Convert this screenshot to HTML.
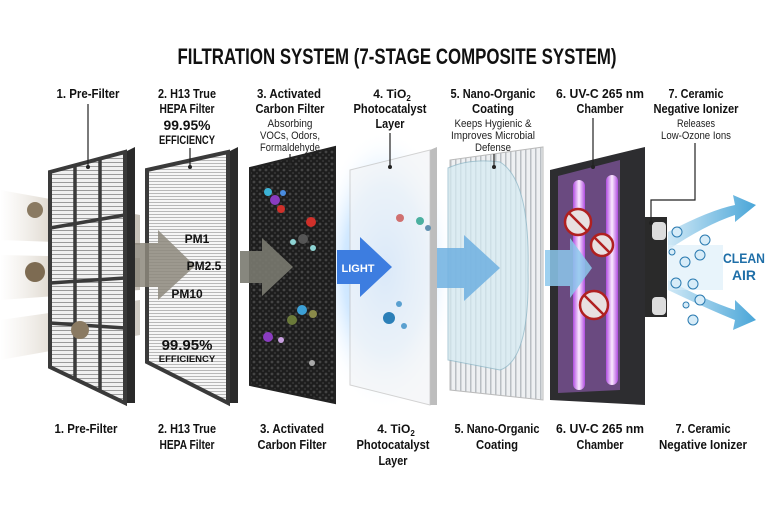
<!DOCTYPE html>
<html><head><meta charset="utf-8"><style>
html,body{margin:0;padding:0;background:#fff;}
svg{display:block;}
.t{font-family:"Liberation Sans",sans-serif;font-weight:bold;fill:#111;text-anchor:middle;}
.s{font-family:"Liberation Sans",sans-serif;fill:#222;text-anchor:middle;}
</style></head><body>
<svg width="768" height="512" viewBox="0 0 768 512" xmlns="http://www.w3.org/2000/svg">
<defs>
<pattern id="grid" width="4" height="4" patternUnits="userSpaceOnUse"><rect width="4" height="4" fill="#f0f0f0"/><rect y="2" width="4" height="1" fill="#9a9a9a"/></pattern>
<pattern id="hepa" width="3" height="3" patternUnits="userSpaceOnUse"><rect width="3" height="3" fill="#f6f6f6"/><rect y="1" width="3" height="1" fill="#b8b8b8"/></pattern>
<pattern id="carb" width="6" height="6" patternUnits="userSpaceOnUse"><rect width="6" height="6" fill="#1d1d1d"/><circle cx="2" cy="2" r="1.4" fill="#444"/><circle cx="5" cy="5" r="1.1" fill="#333"/></pattern>
<pattern id="vlines" width="5" height="5" patternUnits="userSpaceOnUse"><rect width="5" height="5" fill="#eef0f2"/><rect width="1.5" height="5" fill="#b9bec3"/></pattern>
<radialGradient id="glow" cx="0.5" cy="0.5" r="0.5"><stop offset="0" stop-color="#8fc4ff"/><stop offset="0.6" stop-color="#bfe0ff" stop-opacity="0.7"/><stop offset="1" stop-color="#fff" stop-opacity="0"/></radialGradient>
<linearGradient id="dust" x1="0" x2="1"><stop offset="0" stop-color="#c9bba8" stop-opacity="0"/><stop offset="0.4" stop-color="#a8987f" stop-opacity="0.7"/><stop offset="1" stop-color="#8a7e6c" stop-opacity="0.8"/></linearGradient>
<linearGradient id="air" x1="0" x2="1"><stop offset="0" stop-color="#cfe8f6"/><stop offset="1" stop-color="#4aa6d8"/></linearGradient>
<linearGradient id="tube" x1="0" x2="1"><stop offset="0" stop-color="#b04ce0"/><stop offset="0.5" stop-color="#fbeaff"/><stop offset="1" stop-color="#b04ce0"/></linearGradient>
</defs>

<text x="397" y="64" class="t" font-size="22" textLength="439" lengthAdjust="spacingAndGlyphs">FILTRATION SYSTEM (7-STAGE COMPOSITE SYSTEM)</text>

<!-- top labels -->
<g font-size="13">
<text x="88" y="98" class="t" textLength="63" lengthAdjust="spacingAndGlyphs">1. Pre-Filter</text>
<text x="187" y="98" class="t" textLength="58" lengthAdjust="spacingAndGlyphs">2. H13 True</text><text x="187" y="113" class="t" textLength="55" lengthAdjust="spacingAndGlyphs">HEPA Filter</text>
<text x="187" y="130" class="t" font-size="14" textLength="47" lengthAdjust="spacingAndGlyphs">99.95%</text><text x="187" y="144" class="t" font-size="11.5" textLength="56" lengthAdjust="spacingAndGlyphs">EFFICIENCY</text>
<text x="289" y="98" class="t" textLength="64" lengthAdjust="spacingAndGlyphs">3. Activated</text><text x="290" y="113" class="t" textLength="69" lengthAdjust="spacingAndGlyphs">Carbon Filter</text>
<text x="392" y="98" class="t" font-size="12">4. TiO<tspan font-size="8" dy="3">2</tspan></text><text x="390" y="113" class="t" textLength="73" lengthAdjust="spacingAndGlyphs">Photocatalyst</text><text x="390" y="128" class="t" textLength="29" lengthAdjust="spacingAndGlyphs">Layer</text>
<text x="493" y="98" class="t" textLength="85" lengthAdjust="spacingAndGlyphs">5. Nano-Organic</text><text x="493" y="113" class="t" textLength="42" lengthAdjust="spacingAndGlyphs">Coating</text>
<text x="600" y="98" class="t" textLength="88" lengthAdjust="spacingAndGlyphs">6. UV-C 265 nm</text><text x="600" y="113" class="t" textLength="47" lengthAdjust="spacingAndGlyphs">Chamber</text>
<text x="696" y="98" class="t" textLength="55" lengthAdjust="spacingAndGlyphs">7. Ceramic</text><text x="696" y="113" class="t" textLength="85" lengthAdjust="spacingAndGlyphs">Negative Ionizer</text>
</g>
<g font-size="11">
<text x="290" y="127" class="s" textLength="45" lengthAdjust="spacingAndGlyphs">Absorbing</text><text x="290" y="139" class="s" textLength="60" lengthAdjust="spacingAndGlyphs">VOCs, Odors,</text><text x="290" y="151" class="s" textLength="60" lengthAdjust="spacingAndGlyphs">Formaldehyde</text>
<text x="493" y="127" class="s" textLength="77" lengthAdjust="spacingAndGlyphs">Keeps Hygienic &amp;</text><text x="493" y="139" class="s" textLength="84" lengthAdjust="spacingAndGlyphs">Improves Microbial</text><text x="493" y="151" class="s" textLength="36" lengthAdjust="spacingAndGlyphs">Defense</text>
<text x="696" y="127" class="s" textLength="38" lengthAdjust="spacingAndGlyphs">Releases</text><text x="696" y="139" class="s" textLength="70" lengthAdjust="spacingAndGlyphs">Low-Ozone Ions</text>
</g>

<!-- blue glow -->
<ellipse cx="385" cy="270" rx="70" ry="140" fill="url(#glow)"/>
<!-- dust streams -->
<path d="M0 190 L140 215 L140 245 L0 240Z" fill="url(#dust)" opacity="0.6"/>
<path d="M0 255 L140 258 L140 290 L0 300Z" fill="url(#dust)" opacity="0.6"/>
<path d="M0 320 L140 300 L140 335 L0 360Z" fill="url(#dust)" opacity="0.5"/>

<!-- panel 1 -->
<polygon points="125,152 135,147 135,403 125,403" fill="#2a2a2a"/>
<polygon points="50,172 125,152 125,403 50,367" fill="url(#grid)" stroke="#3a3a3a" stroke-width="4"/>
<g stroke="#3a3a3a" stroke-width="3.5" fill="none">
<line x1="75" y1="165" x2="75" y2="380"/><line x1="100" y1="159" x2="100" y2="392"/>
<line x1="50" y1="228" x2="125" y2="215"/><line x1="50" y1="283" x2="125" y2="278"/><line x1="50" y1="323" x2="125" y2="328"/>
</g>
<circle cx="35" cy="210" r="8" fill="#8a7a62"/><circle cx="35" cy="272" r="10" fill="#7d6b52"/><circle cx="80" cy="330" r="9" fill="#8a7a62"/>

<!-- panel 2 -->
<polygon points="228,152 238,147 238,403 228,403" fill="#2a2a2a"/>
<polygon points="147,170 228,152 228,403 147,362" fill="url(#hepa)" stroke="#3a3a3a" stroke-width="4"/>
<polygon points="135,243 158,243 158,230 195,266 158,300 158,287 135,287" fill="#8d887c" opacity="0.85"/>
<g class="t" font-size="12"><text x="197" y="243">PM1</text><text x="204" y="270">PM2.5</text><text x="187" y="298">PM10</text></g>
<text x="187" y="350" class="t" font-size="15">99.95%</text><text x="187" y="362" class="t" font-size="9.5">EFFICIENCY</text>

<!-- panel 3 -->
<polygon points="250,168 335,147 335,403 250,385" fill="url(#carb)" stroke="#222" stroke-width="2"/>
<polygon points="240,251 262,251 262,238 293,267 262,296 262,283 240,283" fill="#7a7a70" opacity="0.9"/>
<g><circle cx="268" cy="192" r="4" fill="#3cb3d6"/><circle cx="275" cy="200" r="5" fill="#8a3cc0"/><circle cx="281" cy="209" r="4" fill="#d0302a"/><circle cx="283" cy="193" r="3" fill="#4a8de0"/>
<circle cx="311" cy="222" r="5" fill="#d0302a"/><circle cx="303" cy="239" r="5" fill="#555"/><circle cx="293" cy="242" r="3" fill="#8ed4d4"/><circle cx="313" cy="248" r="3" fill="#8ed4d4"/>
<circle cx="302" cy="310" r="5" fill="#3ca0d6"/><circle cx="292" cy="320" r="5" fill="#6b7a3a"/><circle cx="313" cy="314" r="4" fill="#8a8a4a"/>
<circle cx="268" cy="337" r="5" fill="#8a3cc0"/><circle cx="281" cy="340" r="3" fill="#c8a0e0"/><circle cx="312" cy="363" r="3" fill="#aaa"/></g>

<!-- panel 4 -->
<polygon points="430,150 437,147 437,405 430,405" fill="#bdbdbd"/>
<polygon points="350,170 430,150 430,405 350,385" fill="#f3f5f7" opacity="0.75" stroke="#c4c4c4"/>
<polygon points="337,250 360,250 360,237 392,267 360,297 360,284 337,284" fill="#3d7de0"/>
<text x="358" y="272" class="t" font-size="11" style="fill:#fff">LIGHT</text>
<circle cx="420" cy="221" r="4" fill="#4bb0a0"/><circle cx="400" cy="218" r="4" fill="#d07070"/><circle cx="428" cy="228" r="3" fill="#6090b0"/>
<circle cx="389" cy="318" r="6" fill="#2b7fb8"/><circle cx="399" cy="304" r="3" fill="#5aa0d0"/><circle cx="404" cy="326" r="3" fill="#5aa0d0"/>

<!-- panel 5 -->
<polygon points="450,160 543,147 543,400 450,390" fill="url(#vlines)" stroke="#bbb"/>
<path d="M448 168 Q470 158 500 162 Q530 180 528 270 Q530 360 500 370 L448 360 Z" fill="#d6ebf2" opacity="0.75" stroke="#8fb8c8"/>
<polygon points="437,248 464,248 464,235 500,268 464,301 464,288 437,288" fill="#6fb0e0" opacity="0.85"/>

<!-- panel 6 -->
<polygon points="550,170 645,147 645,405 550,400" fill="#2d2d30"/>
<polygon points="558,176 620,160 620,390 558,393" fill="#6a4a80"/>
<rect x="573" y="180" width="12" height="210" rx="6" fill="url(#tube)"/>
<rect x="606" y="175" width="12" height="210" rx="6" fill="url(#tube)"/>
<polygon points="545,250 570,250 570,238 592,268 570,298 570,286 545,286" fill="#8cc8ec" opacity="0.85"/>
<g fill="#e8e0e0" stroke="#b02020" stroke-width="2.5"><circle cx="578" cy="222" r="13"/><circle cx="602" cy="245" r="11"/><circle cx="594" cy="305" r="14"/></g>
<g stroke="#b02020" stroke-width="2.5"><line x1="569" y1="213" x2="587" y2="231"/><line x1="594" y1="237" x2="610" y2="253"/><line x1="584" y1="295" x2="604" y2="315"/></g>

<!-- ionizer -->
<rect x="645" y="217" width="22" height="100" fill="#2a2a2a"/>
<rect x="652" y="222" width="14" height="18" rx="4" fill="#ddd"/><rect x="652" y="297" width="14" height="18" rx="4" fill="#ddd"/>
<path d="M668 232 Q710 210 735 205 L733 195 L756 205 L735 222 L735 215 Q705 225 668 250Z" fill="url(#air)"/>
<path d="M668 290 Q710 310 735 320 L733 330 L756 320 L735 300 L735 310 Q705 300 668 280Z" fill="url(#air)"/>
<rect x="668" y="245" width="55" height="45" fill="#d8edf8" opacity="0.6"/>
<g fill="#d7ecf8" stroke="#2a7ab0" stroke-width="1"><circle cx="677" cy="232" r="5"/><circle cx="705" cy="240" r="5"/><circle cx="685" cy="262" r="5"/><circle cx="700" cy="255" r="5"/><circle cx="676" cy="283" r="5"/><circle cx="693" cy="284" r="5"/><circle cx="700" cy="300" r="5"/><circle cx="693" cy="320" r="5"/><circle cx="686" cy="305" r="3"/><circle cx="672" cy="252" r="3"/></g>
<text x="744" y="263" class="t" font-size="14" style="fill:#1f6fa8" textLength="42" lengthAdjust="spacingAndGlyphs">CLEAN</text>
<text x="744" y="280" class="t" font-size="14" style="fill:#1f6fa8" textLength="24" lengthAdjust="spacingAndGlyphs">AIR</text>

<!-- connector lines -->
<g stroke="#222" stroke-width="1.2" fill="none">
<line x1="88" y1="104" x2="88" y2="166"/><line x1="190" y1="148" x2="190" y2="166"/>
<line x1="290" y1="154" x2="290" y2="168"/><line x1="390" y1="133" x2="390" y2="166"/>
<line x1="494" y1="154" x2="494" y2="167"/><line x1="593" y1="118" x2="593" y2="166"/>
<polyline points="695,143 695,200 651,200 651,222"/>
</g>
<g fill="#222"><circle cx="88" cy="167" r="2"/><circle cx="190" cy="167" r="2"/><circle cx="290" cy="168" r="2"/><circle cx="390" cy="167" r="2"/><circle cx="494" cy="167" r="2"/><circle cx="593" cy="167" r="2"/><circle cx="651" cy="223" r="2"/></g>

<!-- bottom labels -->
<g font-size="13">
<text x="86" y="433" class="t" textLength="63" lengthAdjust="spacingAndGlyphs">1. Pre-Filter</text>
<text x="187" y="433" class="t" textLength="58" lengthAdjust="spacingAndGlyphs">2. H13 True</text><text x="187" y="449" class="t" textLength="55" lengthAdjust="spacingAndGlyphs">HEPA Filter</text>
<text x="292" y="433" class="t" textLength="64" lengthAdjust="spacingAndGlyphs">3. Activated</text><text x="292" y="449" class="t" textLength="69" lengthAdjust="spacingAndGlyphs">Carbon Filter</text>
<text x="396" y="433" class="t" font-size="12">4. TiO<tspan font-size="8" dy="3">2</tspan></text><text x="393" y="449" class="t" textLength="73" lengthAdjust="spacingAndGlyphs">Photocatalyst</text><text x="393" y="465" class="t" textLength="29" lengthAdjust="spacingAndGlyphs">Layer</text>
<text x="497" y="433" class="t" textLength="85" lengthAdjust="spacingAndGlyphs">5. Nano-Organic</text><text x="497" y="449" class="t" textLength="42" lengthAdjust="spacingAndGlyphs">Coating</text>
<text x="600" y="433" class="t" textLength="88" lengthAdjust="spacingAndGlyphs">6. UV-C 265 nm</text><text x="600" y="449" class="t" textLength="47" lengthAdjust="spacingAndGlyphs">Chamber</text>
<text x="703" y="433" class="t" textLength="55" lengthAdjust="spacingAndGlyphs">7. Ceramic</text><text x="703" y="449" class="t" textLength="88" lengthAdjust="spacingAndGlyphs">Negative Ionizer</text>
</g>
</svg>
</body></html>
